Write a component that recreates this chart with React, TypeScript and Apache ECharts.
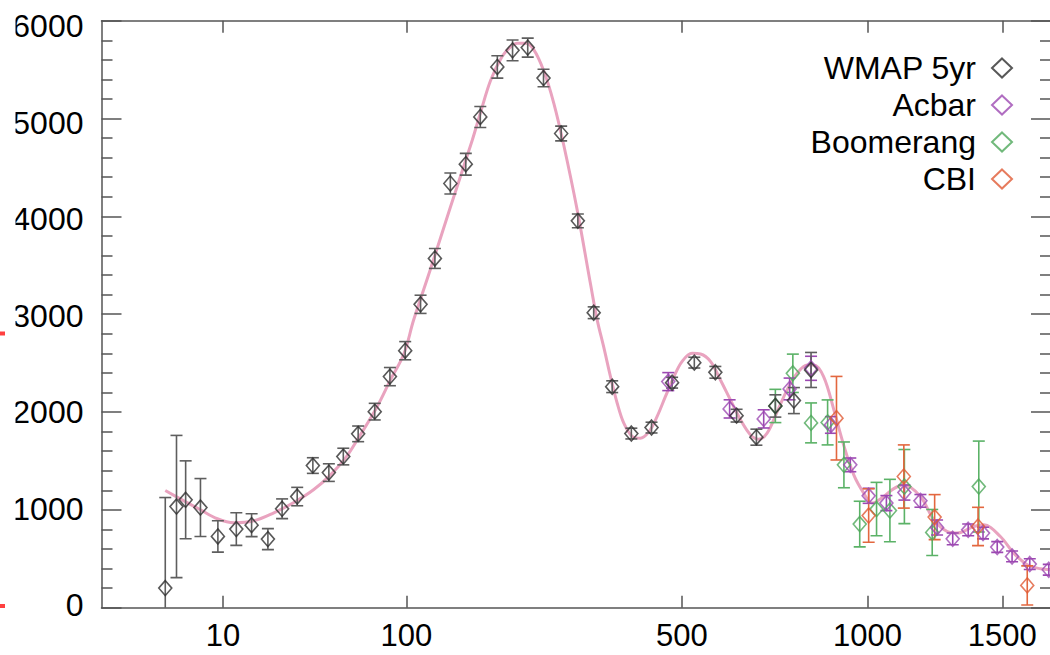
import React, { useEffect, useRef } from 'react';
import * as echarts from 'echarts';

const FONT = '"Liberation Sans", Arial, Helvetica, sans-serif';

// multipole axis ticks and power-spectrum ticks
const X_TICKS = [10, 100, 500, 1000, 1500];
const Y_TICKS = [0, 1000, 2000, 3000, 4000, 5000, 6000];
const L_MAX = 1711;
const Y_MAX = 6000;

// WMAP 5yr
const WMAP_L = [2, 3, 4, 6, 9, 13, 17, 22, 27, 33, 40, 48, 56, 65, 76, 87, 99, 112, 125, 140, 156, 172, 192, 211, 231, 253, 279, 305, 331, 363, 398, 437, 479, 527, 575, 626, 676, 726, 777, 826];
const WMAP_D = [201, 1034, 1103, 1024, 728, 804, 844, 701, 1011, 1136, 1453, 1381, 1545, 1777, 2004, 2362, 2627, 3101, 3570, 4336, 4533, 5016, 5527, 5697, 5725, 5414, 4847, 3954, 3015, 2259, 1780, 1841, 2300, 2505, 2406, 1963, 1743, 2062, 2117, 2430];
const WMAP_E = [925, 727, 398, 296, 160, 167, 117, 107, 101, 94, 80, 90, 85, 80, 85, 93, 93, 93, 102, 107, 111, 107, 114, 106, 97, 89, 75, 70, 60, 60, 55, 55, 55, 55, 60, 65, 82, 114, 133, 179];

// Acbar
const ACBAR_L = [471, 609, 695, 765, 826, 885, 945, 1004, 1063, 1125, 1182, 1243, 1302, 1362, 1421, 1479, 1541, 1617, 1701];
const ACBAR_D = [2311, 2032, 1930, 2236, 2447, 1868, 1460, 1144, 1069, 1177, 1092, 820, 704, 796, 763, 620, 524, 446, 388];
const ACBAR_E = [92, 93, 93, 111, 123, 85, 70, 77, 77, 77, 65, 77, 60, 60, 60, 55, 55, 55, 55];

// Boomerang
const BOOM_L = [726, 774, 826, 875, 925, 975, 1030, 1075, 1125, 1225, 1404];
const BOOM_D = [2062, 2396, 1889, 1894, 1460, 855, 1008, 993, 1238, 769, 1238];
const BOOM_E = [170, 196, 204, 230, 234, 233, 273, 319, 379, 235, 465];

// CBI
const CBI_L = [902, 1004, 1123, 1234, 1401, 1606];
const CBI_D = [1937, 942, 1341, 926, 830, 228];
const CBI_E = [427, 273, 323, 230, 196, 200];

// best-fit model curve
const THEORY_L = [2, 3.8, 6, 8.9, 12.4, 17.6, 24, 31.6, 40.3, 48.9, 57.3, 64.4, 77.7, 87.4, 97.9, 106, 121, 140, 163, 172, 184, 198, 208, 217, 228, 239, 253, 268, 283, 304, 326, 337, 348, 360, 372, 384, 400, 415, 432, 448, 465, 483, 500, 522, 541, 564, 587, 611, 636, 661, 682, 704, 731, 758, 786, 815, 834, 863, 894, 925, 956, 988, 1015, 1054, 1087, 1123, 1182, 1231, 1281, 1319, 1384, 1424, 1492, 1548, 1606, 1664, 1711];
const THEORY_D = [1198, 1092, 1001, 909, 868, 888, 970, 1075, 1205, 1358, 1532, 1715, 2055, 2328, 2593, 2940, 3465, 4094, 4778, 5054, 5391, 5636, 5728, 5769, 5769, 5707, 5493, 5156, 4727, 4064, 3298, 2940, 2668, 2362, 2090, 1886, 1749, 1733, 1800, 1953, 2157, 2362, 2515, 2600, 2593, 2515, 2328, 2124, 1919, 1766, 1722, 1784, 2004, 2226, 2396, 2481, 2481, 2362, 2022, 1654, 1358, 1171, 1069, 1136, 1215, 1256, 1136, 898, 779, 763, 830, 847, 728, 558, 439, 398, 388];

const SERIES_NAMES = ['WMAP 5yr', 'Acbar', 'Boomerang', 'CBI'];

// axis transform (multipole^0.4)
const tx = (l: number) => Math.pow(l, 0.4);

const AXIS_COLOR = '#555555';

export default function App() {
  const ref = useRef<HTMLDivElement>(null);

  useEffect(() => {
    if (!ref.current) return;
    const chart = echarts.init(ref.current, null, { renderer: 'svg' });

    const sets = [
      { name: SERIES_NAMES[0], l: WMAP_L, d: WMAP_D, e: WMAP_E, color: '#2e2e2e', err: '#5e5e5e' },
      { name: SERIES_NAMES[1], l: ACBAR_L, d: ACBAR_D, e: ACBAR_E, color: '#9c48b2', err: '#9c48b2' },
      { name: SERIES_NAMES[2], l: BOOM_L, d: BOOM_D, e: BOOM_E, color: '#4ea85a', err: '#5bb267' },
      { name: SERIES_NAMES[3], l: CBI_L, d: CBI_D, e: CBI_E, color: '#e05a34', err: '#e3673f' },
    ];
    const drawOrder = [2, 1, 3, 0];

    const series: any[] = [
      {
        type: 'line',
        name: 'model',
        data: THEORY_L.map((l, i) => [tx(l), THEORY_D[i]]),
        smooth: 0.35,
        showSymbol: false,
        symbol: 'none',
        lineStyle: { color: '#e9a3bf', width: 3 },
        silent: true,
        z: 2,
      },
    ];

    drawOrder.forEach((k) => {
      const s = sets[k];
      series.push({
        type: 'custom',
        name: s.name + ' error',
        data: s.l.map((l, i) => [tx(l), s.d[i] - s.e[i], s.d[i] + s.e[i]]),
        encode: { x: 0, y: [1, 2] },
        clip: true,
        silent: true,
        z: 3,
        renderItem: (params: any, api: any) => {
          const x = api.value(0);
          const lo = api.coord([x, api.value(1)]);
          const hi = api.coord([x, api.value(2)]);
          const w = 6;
          const style = { stroke: s.err, lineWidth: 1.6 };
          return {
            type: 'group',
            children: [
              { type: 'line', shape: { x1: lo[0], y1: lo[1], x2: hi[0], y2: hi[1] }, style },
              { type: 'line', shape: { x1: lo[0] - w, y1: lo[1], x2: lo[0] + w, y2: lo[1] }, style },
              { type: 'line', shape: { x1: hi[0] - w, y1: hi[1], x2: hi[0] + w, y2: hi[1] }, style },
            ],
          };
        },
      });
      series.push({
        type: 'scatter',
        name: s.name,
        data: s.l.map((l, i) => [tx(l), s.d[i]]),
        symbol: 'diamond',
        symbolSize: [13, 15],
        itemStyle: { color: 'rgba(255,255,255,0)', borderColor: s.color, borderWidth: 1.6 },
        emphasis: { disabled: true },
        silent: true,
        z: 4,
      });
    });

    const lineStyle = { color: AXIS_COLOR, width: 1.5 };
    const xTickVals = X_TICKS.map(tx);

    const option: any = {
      animation: false,
      backgroundColor: '#ffffff',
      textStyle: { fontFamily: FONT },
      grid: {
        left: 101.5,
        right: -1,
        top: 20.7,
        bottom: 47.3,
        containLabel: false,
        outerBoundsMode: 'none',
      },
      xAxis: [
        {
          type: 'value',
          position: 'bottom',
          min: 0,
          max: tx(L_MAX),
          axisLine: { show: true, onZero: false, lineStyle },
          axisTick: { show: true, inside: true, length: 12, customValues: xTickVals, lineStyle },
          axisLabel: {
            show: true,
            customValues: xTickVals,
            formatter: (v: number) => String(Math.round(Math.pow(v, 2.5))),
            fontSize: 31,
            color: '#000',
            fontFamily: FONT,
            margin: 12,
          },
          splitLine: { show: false },
        },
        {
          type: 'value',
          position: 'top',
          min: 0,
          max: tx(L_MAX),
          axisLine: { show: true, onZero: false, lineStyle },
          axisTick: { show: true, inside: true, length: 12, customValues: xTickVals, lineStyle },
          axisLabel: { show: false },
          splitLine: { show: false },
        },
      ],
      yAxis: [
        {
          type: 'value',
          position: 'left',
          min: 0,
          max: Y_MAX,
          interval: 1000,
          axisLine: { show: true, onZero: false, lineStyle },
          axisTick: { show: true, inside: true, length: 20, lineStyle },
          minorTick: { show: true, splitNumber: 5, length: 11, lineStyle },
          axisLabel: { show: false },
          splitLine: { show: false },
        },
        {
          type: 'value',
          position: 'right',
          min: 0,
          max: Y_MAX,
          interval: 1000,
          axisLine: { show: true, onZero: false, lineStyle },
          axisTick: { show: true, inside: true, length: 20, lineStyle },
          minorTick: { show: true, splitNumber: 5, length: 11, lineStyle },
          axisLabel: { show: false },
          splitLine: { show: false },
        },
        {
          type: 'value',
          position: 'left',
          min: -22.8,
          max: 6055,
          axisLine: { show: false },
          axisTick: { show: false },
          splitLine: { show: false },
          axisLabel: {
            show: true,
            customValues: Y_TICKS,
            formatter: (v: number) => String(Math.round(v)),
            fontSize: 32,
            color: '#000',
            fontFamily: FONT,
            margin: 18,
          },
        },
      ],
      legend: sets.map((s, i) => ({
        data: [
          {
            name: s.name,
            icon: 'diamond',
            itemStyle: { color: 'rgba(255,255,255,0)', borderColor: s.color, borderWidth: 2 },
          },
        ],
        orient: 'vertical',
        align: 'right',
        right: 37,
        top: 52 + i * 37,
        padding: 0,
        itemWidth: 20,
        itemHeight: 19,
        selectedMode: false,
        textStyle: { fontSize: 32, color: '#000', fontFamily: FONT, padding: [0, 11, 0, 0] },
      })),
      graphic: [
        { type: 'rect', z: 100, shape: { x: 0, y: 0, width: 15.5, height: 640 }, style: { fill: '#ffffff' } },
        { type: 'rect', z: 101, shape: { x: 0, y: 331.5, width: 5, height: 4 }, style: { fill: '#ff4040' } },
        { type: 'rect', z: 101, shape: { x: 0, y: 604, width: 5, height: 4 }, style: { fill: '#ff4040' } },
      ],
      series,
    };

    chart.setOption(option);
    return () => chart.dispose();
  }, []);

  return (
    <div
      ref={ref}
      style={{ position: 'fixed', left: 0, top: 0, width: 1050, height: 655, background: '#fff' }}
    />
  );
}
